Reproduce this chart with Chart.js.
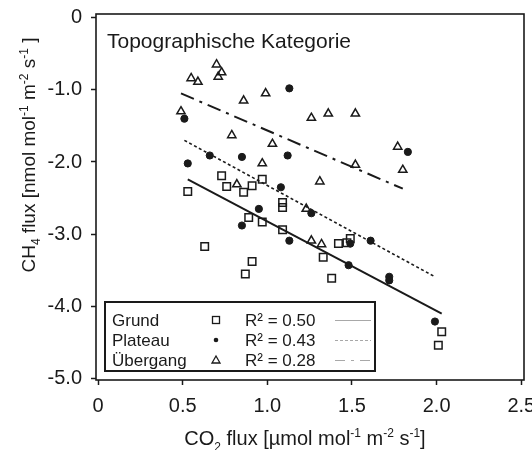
<!DOCTYPE html>
<html>
<head>
<meta charset="utf-8">
<script src="https://cdn.jsdelivr.net/npm/chart.js@4"></script>
<style>
  html, body { margin: 0; padding: 0; background: #fff; }
  #wrap { width: 532px; height: 450px; }
</style>
</head>
<body>
<div id="wrap"><canvas id="myChart" width="532" height="450"></canvas></div>
<script>
  // Grund (squares)
  const grundX = [0.73, 0.76, 0.91, 0.97, 0.86, 0.53, 1.09, 1.09, 0.89, 0.97, 1.09, 0.63, 0.91, 0.87, 1.42, 1.47, 1.49, 1.33, 1.38, 2.03, 2.01];
  const grundY = [-2.19, -2.34, -2.33, -2.24, -2.42, -2.41, -2.56, -2.63, -2.77, -2.83, -2.94, -3.17, -3.38, -3.55, -3.13, -3.12, -3.06, -3.32, -3.61, -4.35, -4.54];

  // Plateau (filled dots)
  const plateauX = [1.13, 0.51, 0.66, 0.85, 1.12, 0.53, 1.08, 1.83, 0.95, 0.85, 1.13, 1.26, 1.49, 1.61, 1.48, 1.72, 1.72, 1.99];
  const plateauY = [-0.98, -1.40, -1.91, -1.93, -1.91, -2.02, -2.35, -1.86, -2.65, -2.88, -3.09, -2.71, -3.13, -3.09, -3.43, -3.59, -3.64, -4.21];

  // Übergang (open triangles)
  const uebergangX = [0.70, 0.73, 0.71, 0.55, 0.59, 0.86, 0.99, 0.49, 0.79, 1.03, 0.97, 0.82, 1.26, 1.36, 1.52, 1.77, 1.80, 1.52, 1.31, 1.23, 1.26, 1.32];
  const uebergangY = [-0.65, -0.76, -0.82, -0.84, -0.89, -1.15, -1.05, -1.30, -1.63, -1.75, -2.02, -2.31, -1.39, -1.33, -1.33, -1.79, -2.11, -2.04, -2.27, -2.65, -3.09, -3.14];

  // regression lines (end points)
  const fitGrundX = [0.53, 2.03];
  const fitGrundY = [-2.24, -4.10];
  const fitPlateauX = [0.51, 1.99];
  const fitPlateauY = [-1.70, -3.59];
  const fitUebergangX = [0.49, 1.80];
  const fitUebergangY = [-1.05, -2.37];

  const categories = ['Grund', 'Plateau', 'Übergang'];
  const rSquared = ['0.50', '0.43', '0.28'];

  const xTicks = [0, 0.5, 1.0, 1.5, 2.0, 2.5];
  const yTicks = [0, -1.0, -2.0, -3.0, -4.0, -5.0];

  const zip = (xs, ys) => xs.map((x, i) => ({ x: x, y: ys[i] }));

  const FONT = 'Arial, "Liberation Sans", sans-serif';
  const INK = '#1a1a1a';

  // text with sub/superscripts; kind 0 normal, -1 sub, 1 sup
  function drawRich(ctx, parts, x, y, size) {
    const small = Math.round(size * 0.62);
    let total = 0;
    parts.forEach(p => {
      ctx.font = (p[1] === 0 ? size : small) + 'px ' + FONT;
      total += ctx.measureText(p[0]).width;
    });
    let cx = x - total / 2;
    ctx.textAlign = 'left';
    ctx.textBaseline = 'alphabetic';
    parts.forEach(p => {
      ctx.font = (p[1] === 0 ? size : small) + 'px ' + FONT;
      let dy = 0;
      if (p[1] === -1) dy = size * 0.28;
      if (p[1] === 1) dy = -size * 0.38;
      ctx.fillText(p[0], cx, y + dy);
      cx += ctx.measureText(p[0]).width;
    });
  }

  const decor = {
    id: 'decor',
    afterDraw(chart) {
      const { ctx, chartArea: { top, right, bottom, left } } = chart;
      ctx.save();
      ctx.strokeStyle = INK;
      ctx.lineWidth = 1.6;
      ctx.setLineDash([]);
      ctx.strokeRect(left, top, right - left, bottom - top);

      ctx.fillStyle = INK;
      ctx.font = '21px ' + FONT;
      ctx.textAlign = 'left';
      ctx.textBaseline = 'alphabetic';
      ctx.fillText('Topographische Kategorie', 107, 48);

      // legend box
      ctx.lineWidth = 2;
      ctx.strokeRect(105, 302, 270, 69);
      const rows = [320, 340, 360];
      ctx.font = '17px ' + FONT;
      ctx.textBaseline = 'middle';
      categories.forEach((c, i) => {
        ctx.fillStyle = INK;
        ctx.fillText(c, 112, rows[i] + 1);
        ctx.fillText('R² = ' + rSquared[i], 245, rows[i] + 1);
      });
      // legend markers
      ctx.lineWidth = 1.3;
      ctx.strokeRect(212.5, rows[0] - 3.5, 7, 7);
      ctx.beginPath();
      ctx.arc(216, rows[1], 2.3, 0, Math.PI * 2);
      ctx.fill();
      ctx.beginPath();
      ctx.moveTo(216, rows[2] - 4);
      ctx.lineTo(220, rows[2] + 3);
      ctx.lineTo(212, rows[2] + 3);
      ctx.closePath();
      ctx.stroke();
      // legend line samples
      ctx.strokeStyle = '#a8a8a8';
      ctx.lineWidth = 1;
      const dashes = [[], [3, 2], [10, 6, 3, 6]];
      dashes.forEach((d, i) => {
        ctx.setLineDash(d);
        ctx.beginPath();
        ctx.moveTo(335, rows[i] + 0.5);
        ctx.lineTo(371, rows[i] + 0.5);
        ctx.stroke();
      });
      ctx.setLineDash([]);

      // axis titles
      ctx.fillStyle = INK;
      drawRich(ctx, [['CO', 0], ['2', -1], [' flux [µmol mol', 0], ['-1', 1], [' m', 0], ['-2', 1], [' s', 0], ['-1', 1], [']', 0]], 305, 445, 20);
      ctx.save();
      ctx.translate(35, 155);
      ctx.rotate(-Math.PI / 2);
      drawRich(ctx, [['CH', 0], ['4', -1], [' flux [nmol mol', 0], ['-1', 1], [' m', 0], ['-2', 1], [' s', 0], ['-1', 1], [' ]', 0]], 0, 0, 19);
      ctx.restore();
      ctx.restore();
    }
  };

  const fmt = v => (v === 0 ? '0' : Number(v).toFixed(1));

  const config = {
    type: 'scatter',
    data: {
      datasets: [
        {
          label: 'Grund',
          data: zip(grundX, grundY),
          pointStyle: 'rect',
          pointRadius: 5.3,
          backgroundColor: 'rgba(255,255,255,0)',
          borderColor: INK,
          borderWidth: 1.5
        },
        {
          label: 'Plateau',
          data: zip(plateauX, plateauY),
          pointStyle: 'circle',
          pointRadius: 3.6,
          backgroundColor: INK,
          borderColor: INK,
          borderWidth: 1
        },
        {
          label: 'Übergang',
          data: zip(uebergangX, uebergangY),
          pointStyle: 'triangle',
          pointRadius: 4.8,
          backgroundColor: 'rgba(255,255,255,0)',
          borderColor: INK,
          borderWidth: 1.5
        },
        {
          type: 'line',
          label: 'Fit Grund',
          data: zip(fitGrundX, fitGrundY),
          borderColor: INK,
          borderWidth: 2,
          pointRadius: 0
        },
        {
          type: 'line',
          label: 'Fit Plateau',
          data: zip(fitPlateauX, fitPlateauY),
          borderColor: INK,
          borderWidth: 1.6,
          borderDash: [3, 2.5],
          pointRadius: 0
        },
        {
          type: 'line',
          label: 'Fit Übergang',
          data: zip(fitUebergangX, fitUebergangY),
          borderColor: INK,
          borderWidth: 2,
          borderDash: [14, 6, 3, 6],
          pointRadius: 0
        }
      ]
    },
    options: {
      responsive: false,
      animation: false,
      events: [],
      layout: { padding: { top: 14, right: 8, left: 0, bottom: 0 } },
      plugins: {
        legend: { display: false },
        tooltip: { enabled: false }
      },
      scales: {
        x: {
          type: 'linear',
          min: -0.012,
          max: 2.516,
          afterBuildTicks(axis) { axis.ticks = xTicks.map(v => ({ value: v })); },
          afterFit(axis) {
            axis.height = 70;
            axis.paddingLeft = 0;
            axis.paddingRight = 0;
          },
          border: { display: false },
          grid: { drawOnChartArea: false, tickLength: 5, color: INK, tickWidth: 1.5 },
          ticks: {
            padding: 9,
            color: INK,
            font: { size: 20, family: FONT },
            maxRotation: 0,
            callback: v => fmt(v)
          }
        },
        y: {
          type: 'linear',
          min: -5.02,
          max: 0.05,
          afterBuildTicks(axis) { axis.ticks = yTicks.map(v => ({ value: v })); },
          afterFit(axis) {
            axis.width = 96;
            axis.paddingTop = 0;
            axis.paddingBottom = 0;
          },
          border: { display: false },
          grid: { drawOnChartArea: false, tickLength: 5, color: INK, tickWidth: 1.5 },
          ticks: {
            padding: 9,
            color: INK,
            font: { size: 20, family: FONT },
            callback: v => fmt(v)
          }
        }
      }
    },
    plugins: [decor]
  };

  const myChart = new Chart(document.getElementById('myChart'), config);
</script>
</body>
</html>
